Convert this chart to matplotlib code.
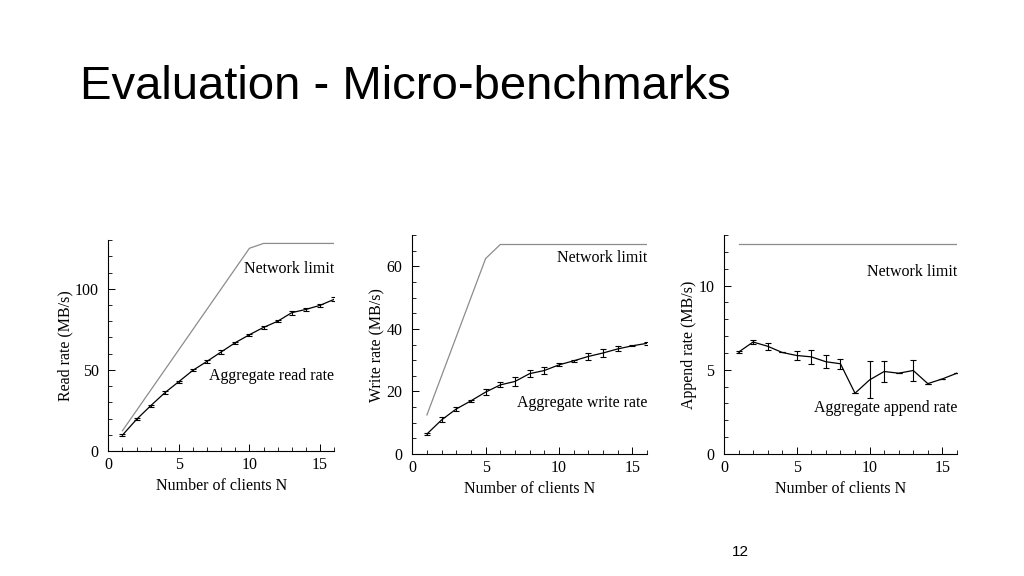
import matplotlib
matplotlib.use("Agg")
from matplotlib import pyplot as plt
from matplotlib.ticker import MultipleLocator
import numpy as np

clients = np.arange(1, 17)

# read benchmark
read_limit = [12.5, 25, 37.5, 50, 62.5, 75, 87.5, 100, 112.5, 125, 128, 128, 128, 128, 128, 128]
read_rate = [9.8, 19.5, 27.9, 35.9, 42.8, 49.8, 55.3, 61.1, 66.8, 71.7, 76.2, 80.0, 85.3, 87.3, 89.8, 93.5]
read_err = [0.4, 0.6, 0.6, 0.8, 0.6, 0.6, 0.9, 1.1, 0.6, 0.6, 0.9, 0.6, 1.2, 0.8, 1.0, 1.2]

# write benchmark
write_limit = [12.5, 25, 37.5, 50, 62.5, 67, 67, 67, 67, 67, 67, 67, 67, 67, 67, 67]
write_rate = [6.4, 10.9, 14.4, 17.0, 19.8, 22.1, 23.2, 25.7, 26.7, 28.5, 29.8, 31.2, 32.3, 33.6, 34.6, 35.4]
write_err = [0.2, 0.8, 0.6, 0.4, 1.0, 0.8, 1.3, 1.2, 1.2, 0.5, 0.4, 1.0, 1.2, 0.8, 0.2, 0.5]

# record append benchmark
append_limit = [12.5] * 16
append_rate = [6.05, 6.65, 6.4, 6.03, 5.85, 5.77, 5.48, 5.36, 3.61, 4.4, 4.9, 4.8, 4.96, 4.18, 4.46, 4.8]
append_err = [0.05, 0.1, 0.2, 0.0, 0.28, 0.4, 0.4, 0.3, 0.0, 1.1, 0.65, 0.0, 0.62, 0.0, 0.0, 0.0]

panels = [
    ([0.1058, 0.217, 0.2204, 0.366], read_limit, read_rate, read_err, 130, 50, 10,
     "Read rate (MB/s)", 112.5, "Aggregate read rate", 46),
    ([0.4026, 0.2118, 0.2292, 0.380], write_limit, write_rate, write_err, 70, 20, 5,
     "Write rate (MB/s)", 62.6, "Aggregate write rate", 16.4),
    ([0.707, 0.2118, 0.2275, 0.380], append_limit, append_rate, append_err, 13, 5, 1,
     "Append rate (MB/s)", 10.8, "Aggregate append rate", 2.74),
]

serif = ["Liberation Serif", "DejaVu Serif"]
fs = 11.5

fig = plt.figure(figsize=(10.24, 5.76), dpi=100)
fig.text(80 / 1024, 1 - 99 / 576, "Evaluation - Micro-benchmarks", family="Liberation Sans",
         fontsize=34, ha="left", va="baseline")
fig.text(740 / 1024, 1 - 556 / 576, "12", family="Liberation Sans", fontsize=11,
         ha="center", va="baseline")

for rect, limit, rate, err, ymax, major, minor, ylabel, ny, alabel, ay in panels:
    ax = fig.add_axes(rect)
    ax.plot(clients, limit, color="#8c8c8c", lw=0.9)
    ax.errorbar(clients, rate, yerr=err, color="black", lw=0.9, elinewidth=0.8,
                capsize=2, capthick=0.8)
    ax.set_xlim(0, 16)
    ax.set_ylim(0, ymax)
    ax.xaxis.set_major_locator(MultipleLocator(5))
    ax.xaxis.set_minor_locator(MultipleLocator(1))
    ax.yaxis.set_major_locator(MultipleLocator(major))
    ax.yaxis.set_minor_locator(MultipleLocator(minor))
    for side in ["top", "right"]:
        ax.spines[side].set_visible(False)
    for side in ["left", "bottom"]:
        ax.spines[side].set_linewidth(0.8)
    ax.tick_params(which="major", direction="in", length=5, width=0.7, labelsize=fs)
    ax.tick_params(axis="x", which="major", pad=4)
    ax.tick_params(axis="y", which="major", pad=7)
    ax.tick_params(which="minor", direction="in", length=3, width=0.6)
    for lab in ax.get_xticklabels() + ax.get_yticklabels():
        lab.set_family(serif)
    ax.set_xlabel("Number of clients N", family=serif, fontsize=fs, labelpad=4)
    ax.set_ylabel(ylabel, family=serif, fontsize=fs, labelpad=1)
    ax.text(16, ny, "Network limit", family=serif, fontsize=fs, ha="right", va="center")
    ax.text(16, ay, alabel, family=serif, fontsize=fs, ha="right", va="center")

fig.savefig("out.png", dpi=100)
